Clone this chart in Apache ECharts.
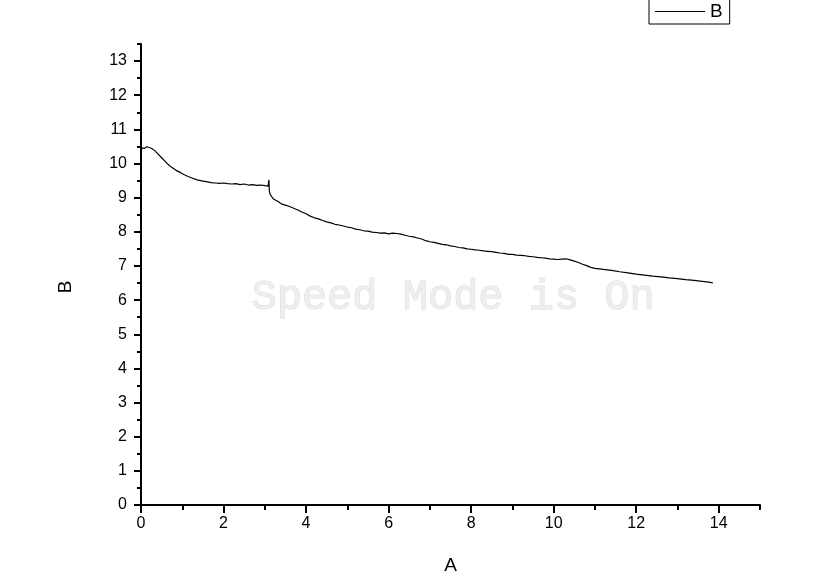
<!DOCTYPE html>
<html>
<head>
<meta charset="utf-8">
<title>B vs A</title>
<script src="https://cdn.jsdelivr.net/npm/echarts@6/dist/echarts.min.js"></script>
<style>
  html, body { margin: 0; padding: 0; background: #fff; }
  #chart { width: 822px; height: 585px; }
</style>
</head>
<body>
<div id="chart"></div>
<script>
// values
const seriesName = 'B';
const aValues = [
  0, 0.03, 0.08, 0.14, 0.2, 0.26, 0.34, 0.42, 0.5, 0.58, 0.66, 0.75, 0.85, 0.95,
  1.05, 1.14, 1.25, 1.36, 1.47, 1.58, 1.7, 1.8, 1.9, 2.0, 2.1, 2.2, 2.3, 2.4, 2.5,
  2.6, 2.7, 2.8, 2.9, 3.0, 3.08, 3.1, 3.11, 3.13, 3.2, 3.3, 3.4, 3.5, 3.6, 3.7, 3.8,
  3.9, 4.0, 4.1, 4.2, 4.3, 4.4, 4.5, 4.6, 4.7, 4.8, 4.9, 5.0, 5.1, 5.2, 5.3, 5.4,
  5.5, 5.6, 5.7, 5.8, 5.9, 6.0, 6.1, 6.2, 6.3, 6.4, 6.5, 6.6, 6.7, 6.8, 6.9, 7.0,
  7.1, 7.2, 7.3, 7.4, 7.5, 7.6, 7.7, 7.8, 7.9, 8.0, 8.1, 8.2, 8.3, 8.4, 8.5, 8.6,
  8.7, 8.8, 8.9, 9.0, 9.1, 9.2, 9.3, 9.4, 9.5, 9.6, 9.7, 9.8, 9.9, 10.0, 10.1,
  10.2, 10.3, 10.4, 10.5, 10.6, 10.7, 10.8, 10.9, 11.0, 11.2, 11.4, 11.6, 11.8,
  12.0, 12.2, 12.4, 12.6, 12.8, 13.0, 13.2, 13.4, 13.6, 13.8, 13.86
];
const bValues = [
  10.38, 10.46, 10.44, 10.49, 10.47, 10.44, 10.37, 10.27, 10.17, 10.07, 9.97, 9.88, 9.80, 9.74,
  9.67, 9.62, 9.57, 9.52, 9.49, 9.47, 9.44, 9.43, 9.42, 9.43, 9.41, 9.40, 9.41, 9.38, 9.40,
  9.37, 9.38, 9.36, 9.37, 9.35, 9.34, 9.52, 9.20, 9.10, 8.97, 8.90, 8.82, 8.78, 8.74, 8.69, 8.64,
  8.58, 8.53, 8.46, 8.41, 8.38, 8.33, 8.29, 8.26, 8.22, 8.20, 8.17, 8.14, 8.12, 8.08, 8.06, 8.03,
  8.02, 7.99, 7.98, 7.96, 7.97, 7.94, 7.96, 7.95, 7.93, 7.90, 7.87, 7.85, 7.82, 7.79, 7.74, 7.71,
  7.69, 7.66, 7.63, 7.62, 7.59, 7.57, 7.54, 7.53, 7.50, 7.49, 7.47, 7.46, 7.44, 7.43, 7.42, 7.40,
  7.38, 7.37, 7.34, 7.34, 7.32, 7.31, 7.30, 7.28, 7.27, 7.25, 7.24, 7.23, 7.21, 7.20, 7.19,
  7.20, 7.21, 7.18, 7.14, 7.10, 7.05, 7.01, 6.96, 6.93, 6.90, 6.87, 6.83, 6.80,
  6.76, 6.73, 6.70, 6.68, 6.65, 6.63, 6.60, 6.58, 6.55, 6.52, 6.50
];
const xMajorTicks = [0, 2, 4, 6, 8, 10, 12, 14];
const xMinorTicks = [1, 3, 5, 7, 9, 11, 13, 15];
const yMajorTicks = [0, 1, 2, 3, 4, 5, 6, 7, 8, 9, 10, 11, 12, 13];
const yMinorTicks = [0.5, 1.5, 2.5, 3.5, 4.5, 5.5, 6.5, 7.5, 8.5, 9.5, 10.5, 11.5, 12.5, 13.5];

const font = 'Liberation Sans, Arial, sans-serif';
const chart = echarts.init(document.getElementById('chart'));

const points = aValues.map((a, i) => [a, bValues[i]]);

chart.setOption({
  animation: false,
  backgroundColor: '#fff',
  grid: { left: 141, right: 62, top: 44, bottom: 80, containLabel: false },
  legend: {
    data: [seriesName],
    left: 649,
    top: -10,
    padding: [12, 7, 3, 6],
    icon: 'rect',
    itemWidth: 50,
    itemHeight: 1,
    borderColor: '#000',
    borderWidth: 1,
    borderRadius: 0,
    textStyle: { color: '#000', fontSize: 19, fontFamily: font }
  },
  graphic: [{
    type: 'text',
    left: 251,
    top: 276,
    silent: true,
    z: 0,
    style: {
      text: 'Speed Mode is On',
      font: '42px "Liberation Mono", "DejaVu Sans Mono", monospace',
      fill: '#eeeeee',
      stroke: '#dcdcdc',
      lineWidth: 1
    }
  }],
  xAxis: [{
    type: 'value',
    min: 0,
    max: 15,
    name: 'A',
    nameLocation: 'middle',
    nameGap: 51,
    nameTextStyle: { color: '#000', fontSize: 19, fontFamily: font },
    axisLine: { show: true, lineStyle: { color: '#000', width: 2 } },
    axisTick: { show: true, customValues: xMajorTicks, length: 8, lineStyle: { color: '#000', width: 2 } },
    axisLabel: { customValues: xMajorTicks, color: '#000', fontSize: 16, fontFamily: font, margin: 11 },
    splitLine: { show: false }
  }, {
    type: 'value',
    position: 'bottom',
    min: 0,
    max: 15,
    axisLine: { show: false },
    axisTick: { show: true, customValues: xMinorTicks, length: 5, lineStyle: { color: '#000', width: 2 } },
    axisLabel: { show: false },
    splitLine: { show: false }
  }],
  yAxis: [{
    type: 'value',
    min: 0,
    max: 13.5,
    name: 'B',
    nameLocation: 'middle',
    nameGap: 66,
    nameTextStyle: { color: '#000', fontSize: 19, fontFamily: font, padding: [0, 25, 0, 0] },
    axisLine: { show: true, lineStyle: { color: '#000', width: 2 } },
    axisTick: { show: true, customValues: yMajorTicks, length: 7, lineStyle: { color: '#000', width: 2 } },
    axisLabel: { customValues: yMajorTicks, color: '#000', fontSize: 16, fontFamily: font, margin: 14 },
    splitLine: { show: false }
  }, {
    type: 'value',
    position: 'left',
    min: 0,
    max: 13.5,
    axisLine: { show: false },
    axisTick: { show: true, customValues: yMinorTicks, length: 4, lineStyle: { color: '#000', width: 2 } },
    axisLabel: { show: false },
    splitLine: { show: false }
  }],
  series: [{
    name: seriesName,
    type: 'line',
    xAxisIndex: 0,
    yAxisIndex: 0,
    data: points,
    symbol: 'none',
    smooth: false,
    lineStyle: { color: '#000', width: 1.2 },
    itemStyle: { color: '#000' },
    z: 3
  }]
});
</script>
</body>
</html>
